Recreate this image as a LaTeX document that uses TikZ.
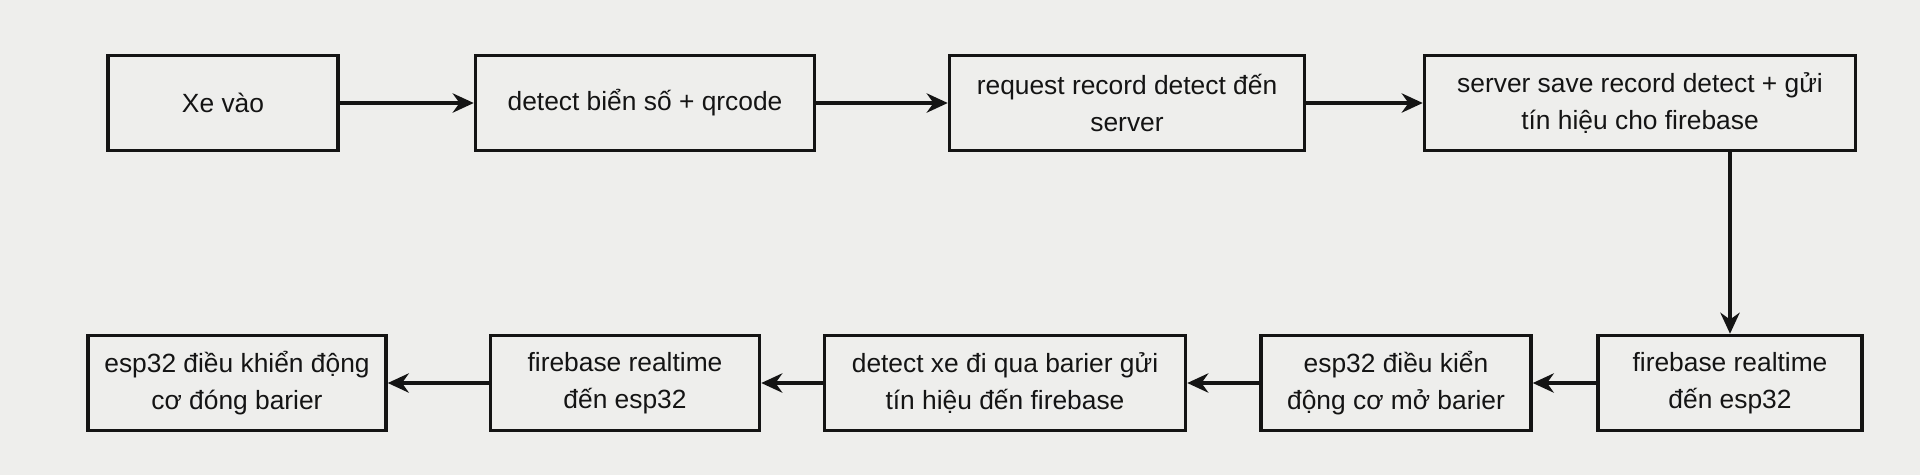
\documentclass[tikz,border=0pt]{standalone}
\usepackage{fontspec}
\setmainfont{Liberation Sans}
\usetikzlibrary{arrows.meta}
\definecolor{paperGray}{HTML}{EEEEEC}
\definecolor{inkDark}{HTML}{141414}

\begin{document}
\begin{tikzpicture}[
      bx/.style={draw=inkDark, line width=1pt, minimum height=0.95cm,
                 align=center, inner sep=2pt,
                 font=\fontsize{7.5}{10.5}\selectfont},
      every node/.style={align=center, text=inkDark}]
    \fill[paperGray] (0,0) rectangle (19.2,4.75);
    \useasboundingbox (0,0) rectangle (19.2,4.75);
    % hang tren
    \node[bx, minimum width=2.30cm] (xv) at (2.23,3.72)  {Xe vào};
    \node[bx, minimum width=3.39cm] (dt) at (6.45,3.72)  {detect biển số + qrcode};
    \node[bx, minimum width=3.55cm] (rq) at (11.27,3.72) {request record detect đến\\server};
    \node[bx, minimum width=4.31cm] (sv) at (16.40,3.72) {server save record detect + gửi\\tín hiệu cho firebase};
    % hang duoi
    \node[bx, minimum width=2.64cm] (fb) at (17.30,0.92) {firebase realtime\\đến esp32};
    \node[bx, minimum width=2.70cm] (mo) at (13.96,0.92) {esp32 điều kiển\\động cơ mở barier};
    \node[bx, minimum width=3.61cm] (dq) at (10.05,0.92) {detect xe đi qua barier gửi\\tín hiệu đến firebase};
    \node[bx, minimum width=2.69cm] (fe) at (6.25,0.92)  {firebase realtime\\đến esp32};
    \node[bx, minimum width=2.98cm] (dg) at (2.37,0.92)  {esp32 điều khiển động\\cơ đóng barier};
    \foreach \a/\b in {xv/dt,dt/rq,rq/sv,fb/mo,mo/dq,dq/fe,fe/dg}
      {\draw[-{Stealth[length=6pt,width=5.5pt]},line width=0.9pt,draw=inkDark] (\a)--(\b);}
    \draw[-{Stealth[length=6pt,width=5.5pt]},line width=0.9pt,draw=inkDark]
      (sv.south -| fb.north) -- (fb.north);
  \end{tikzpicture}
\end{document}
